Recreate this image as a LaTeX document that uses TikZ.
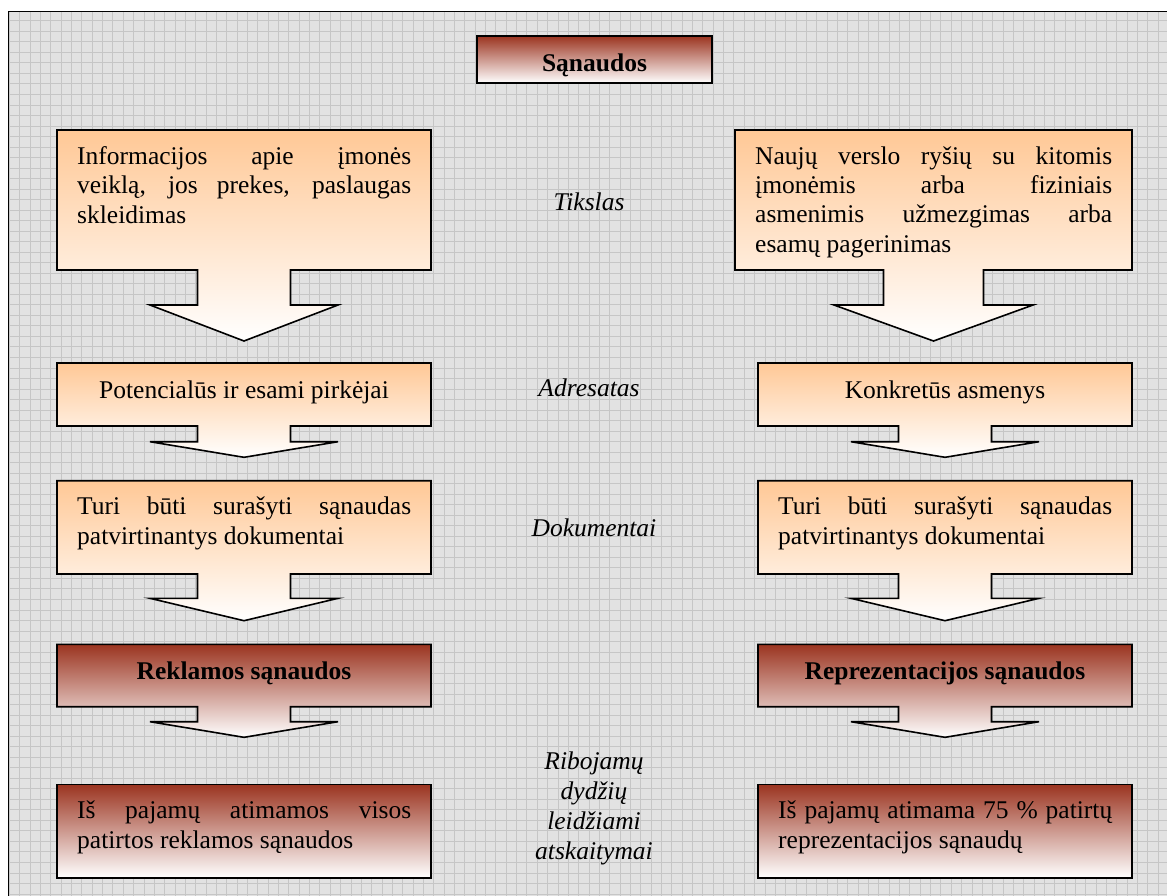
\documentclass[tikz,border=0pt]{standalone}
\usepackage{fontspec}
\setmainfont{Liberation Serif}
\definecolor{peach}{RGB}{255,200,150}
\definecolor{brick}{RGB}{155,52,32}
\definecolor{paper}{RGB}{226,226,226}
\definecolor{gridgray}{RGB}{198,198,198}

% justified line of a given width
\newcommand{\jl}[2]{\makebox[#1][s]{#2}}
% stack of lines, baseline of the whole block = baseline of the first line
\newcommand{\textblock}[2]{\vtop{\baselineskip=#1\lineskiplimit=-20pt #2}}
% rectangle with a block arrow hanging below it
% #1 style, #2 left, #3 right, #4 top, #5 bottom, #6 stem half width,
% #7 wing half width, #8 wing level, #9 tip level
\newcommand{\downbox}[9]{%
  \pgfmathsetmacro\bxc{(#2+#3)/2}%
  \path[#1] (#2,#4) -- (#3,#4) -- (#3,#5) -- (\bxc+#6,#5) -- (\bxc+#6,#8)
    -- (\bxc+#7,#8) -- (\bxc,#9) -- (\bxc-#7,#8) -- (\bxc-#6,#8)
    -- (\bxc-#6,#5) -- (#2,#5) -- cycle;%
}

\tikzset{
  boxline/.style={draw=black, line width=1.6pt, line join=miter},
  peachbox/.style={boxline, top color=peach, bottom color=white},
  brickbox/.style={boxline, top color=brick, bottom color=white},
  txt/.style={inner sep=0pt, font=\fontsize{25.5}{29.5}\selectfont},
  boldtxt/.style={txt, font=\fontsize{25.5}{29.5}\selectfont\bfseries},
  label/.style={txt, font=\fontsize{25.5}{29.5}\selectfont\itshape},
  gridline/.style={draw=gridgray, line width=0.7pt},
}

\begin{document}
\begin{tikzpicture}[x=1pt, y=-1pt]
\useasboundingbox (0,0) rectangle (1167,895);
\begin{scope}
\clip (0,0) rectangle (1167,895);
% squared paper background
\fill[paper] (8.5,11.5) rectangle (1180,910);
\foreach \i in {0,...,112} {
  \draw[gridline] ({9.3+10.35*\i},11.5) -- ({9.3+10.35*\i},910);
}
\foreach \j in {1,...,86} {
  \draw[gridline] (8.5,{10.2+10.52*\j}) -- (1180,{10.2+10.52*\j});
}
\draw[line width=1.8pt] (8.5,910) -- (8.5,11.5) -- (1180,11.5);
\end{scope}

% title
\path[brickbox] (477,36) rectangle (712,83);
\node[boldtxt, anchor=base] (title) at (594.5,71) {Sąnaudos};

% left column
\downbox{peachbox}{57}{431}{130}{270}{46.5}{94}{305}{341}
\node[txt, anchor=base west] (infoL) at (77,164) {\textblock{29.5pt}{%
  \hbox{\jl{334pt}{Informacijos apie įmonės}}%
  \hbox{\jl{334pt}{veiklą, jos prekes, paslaugas}}%
  \hbox{skleidimas}}};

\downbox{peachbox}{57}{431}{363}{426}{46.5}{94}{441.7}{457.3}
\node[txt, anchor=base] (adrL) at (244,398.3) {Potencialūs ir esami pirkėjai};

\downbox{peachbox}{57}{431}{480.7}{574}{46.5}{94}{598.3}{620.7}
\node[txt, anchor=base west] (docL) at (77,514.5) {\textblock{29.5pt}{%
  \hbox{\jl{334pt}{Turi būti surašyti sąnaudas}}%
  \hbox{patvirtinantys dokumentai}}};

\downbox{brickbox}{57}{431}{644.3}{706.7}{46.5}{94}{721.7}{737.3}
\node[boldtxt, anchor=base] (rekl) at (244,679) {Reklamos sąnaudos};

\path[brickbox] (57,784.3) rectangle (431,877.7);
\node[txt, anchor=base west] (resL) at (77,818.3) {\textblock{30pt}{%
  \hbox{\jl{334pt}{Iš pajamų atimamos visos}}%
  \hbox{patirtos reklamos sąnaudos}}};

% right column
\downbox{peachbox}{735}{1132}{130}{270}{50}{99.5}{305}{341}
\node[txt, anchor=base west] (infoR) at (755,164.3) {\textblock{29.3pt}{%
  \hbox{\jl{357pt}{Naujų verslo ryšių su kitomis}}%
  \hbox{\jl{357pt}{įmonėmis arba fiziniais}}%
  \hbox{\jl{357pt}{asmenimis užmezgimas arba}}%
  \hbox{esamų pagerinimas}}};

\downbox{peachbox}{758}{1132}{363}{426}{46.5}{94}{441.7}{457.3}
\node[txt, anchor=base] (adrR) at (945,398.3) {Konkretūs asmenys};

\downbox{peachbox}{758}{1132}{480.7}{574}{46.5}{94}{598.3}{620.7}
\node[txt, anchor=base west] (docR) at (778,514.5) {\textblock{29.5pt}{%
  \hbox{\jl{334pt}{Turi būti surašyti sąnaudas}}%
  \hbox{patvirtinantys dokumentai}}};

\downbox{brickbox}{758}{1132}{644.3}{706.7}{46.5}{94}{721.7}{737.3}
\node[boldtxt, anchor=base] (repr) at (945,679) {Reprezentacijos sąnaudos};

\path[brickbox] (758,784.3) rectangle (1132,877.7);
\node[txt, anchor=base west] (resR) at (778,818.3) {\textblock{30pt}{%
  \hbox{\jl{334pt}{Iš pajamų atimama 75 \% patirtų}}%
  \hbox{reprezentacijos sąnaudų}}};

% row captions in the middle
\node[label, anchor=base] (tikslas) at (589,210) {Tikslas};
\node[label, anchor=base] (adresatas) at (589,396.7) {Adresatas};
\node[label, anchor=base] (dokumentai) at (594,536.7) {Dokumentai};
\node[label, anchor=base] (riboj) at (594,769.3) {\textblock{30.2pt}{%
  \hbox to 160pt{\hfil Ribojamų\hfil}%
  \hbox to 160pt{\hfil dydžių\hfil}%
  \hbox to 160pt{\hfil leidžiami\hfil}%
  \hbox to 160pt{\hfil atskaitymai\hfil}}};
\end{tikzpicture}
\end{document}
